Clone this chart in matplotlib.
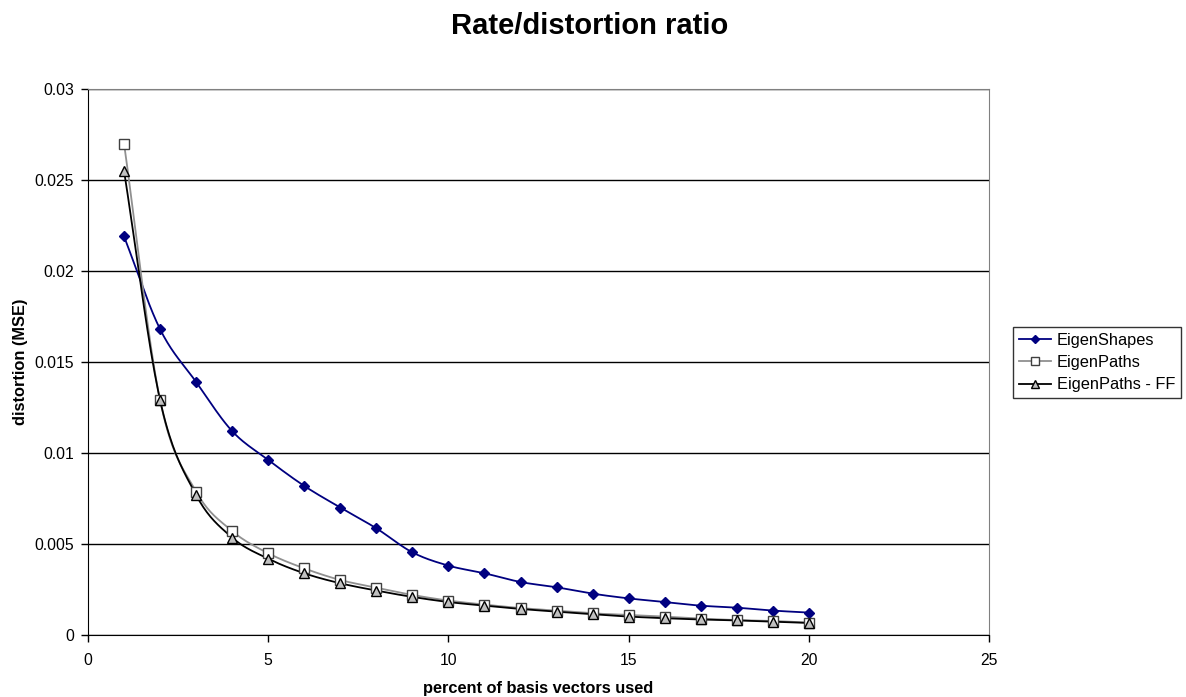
import numpy as np
import matplotlib
matplotlib.use('Agg')
import matplotlib.pyplot as plt

plt.rcParams['font.family'] = ['Liberation Sans', 'DejaVu Sans']

# data
pct = np.arange(1, 21)
eigen_shapes = [0.0219, 0.0168, 0.0139, 0.0112, 0.00962, 0.00819, 0.00700, 0.00586,
                0.00454, 0.00381, 0.00339, 0.00291, 0.00262, 0.00227, 0.00201, 0.00181,
                0.00161, 0.00150, 0.00134, 0.00123]
eigen_paths = [0.0270, 0.0129, 0.00788, 0.00571, 0.00449, 0.00366, 0.00302, 0.00260,
               0.00220, 0.00189, 0.00167, 0.00148, 0.00134, 0.00119, 0.00110, 0.00101,
               0.00090, 0.00082, 0.00077, 0.00068]
eigen_paths_ff = [0.0255, 0.0129, 0.00769, 0.00535, 0.00419, 0.00339, 0.00284, 0.00244,
                  0.00209, 0.00181, 0.00161, 0.00143, 0.00128, 0.00114, 0.00101, 0.00092,
                  0.00085, 0.00080, 0.00073, 0.00066]


def smooth(x, y, n=20):
    # Catmull-Rom style curve through the points, like Excel's smoothed lines
    x = np.asarray(x, float)
    y = np.asarray(y, float)
    px = np.concatenate([[2 * x[0] - x[1]], x, [2 * x[-1] - x[-2]]])
    py = np.concatenate([[2 * y[0] - y[1]], y, [2 * y[-1] - y[-2]]])
    xs, ys = [], []
    t = np.linspace(0, 1, n, endpoint=False)
    for i in range(1, len(px) - 2):
        for p, out in ((px, xs), (py, ys)):
            p0, p1, p2, p3 = p[i - 1], p[i], p[i + 1], p[i + 2]
            c1 = p1 + (p2 - p0) / 6
            c2 = p2 - (p3 - p1) / 6
            out.extend((1 - t) ** 3 * p1 + 3 * (1 - t) ** 2 * t * c1
                       + 3 * (1 - t) * t ** 2 * c2 + t ** 3 * p2)
    xs.append(x[-1])
    ys.append(y[-1])
    return xs, ys


fig = plt.figure(figsize=(11.86, 6.97), dpi=100)
ax = fig.add_axes([0.0742, 0.089, 0.7598, 0.7833])

series = [
    (eigen_shapes, 'EigenShapes', '#000080', 'D', '#000080', '#000080', 5.5),
    (eigen_paths, 'EigenPaths', '#909090', 's', 'white', '#404040', 6.5),
    (eigen_paths_ff, 'EigenPaths - FF', 'black', '^', '#c0c0c0', 'black', 6.5),
]
for vals, name, col, mk, fc, ec, ms in series:
    sx, sy = smooth(pct, vals)
    ax.plot(sx, sy, color=col, lw=1.3, zorder=3)
    ax.plot(pct, vals, ls='none', marker=mk, mfc=fc, mec=ec, ms=ms, mew=1.0, zorder=4)

ax.set_xlim(0, 25)
ax.set_ylim(0, 0.03)
ax.set_xticks([0, 5, 10, 15, 20, 25])
ax.set_yticks([0, 0.005, 0.01, 0.015, 0.02, 0.025, 0.03])
ax.set_yticklabels(['0', '0.005', '0.01', '0.015', '0.02', '0.025', '0.03'])
ax.yaxis.grid(True, color='black', lw=1.0)
ax.set_axisbelow(True)
ax.tick_params(labelsize=11.3, length=5, direction='out', width=1)
ax.tick_params(axis='x', pad=8)
ax.tick_params(axis='y', pad=5)
ax.spines['top'].set_color('#808080')
ax.spines['right'].set_color('#808080')

ax.set_xlabel('percent of basis vectors used', fontsize=11.8, fontweight='bold', labelpad=9)
ax.set_ylabel('distortion (MSE)', fontsize=11.8, fontweight='bold', labelpad=5)
fig.text(0.4975, 0.951, 'Rate/distortion ratio', ha='center', va='baseline',
         fontsize=21, fontweight='bold')

handles = []
for vals, name, col, mk, fc, ec, ms in series:
    handles.append(plt.Line2D([0], [0], color=col, lw=1.3, marker=mk, mfc=fc, mec=ec,
                              ms=ms - 1.0, label=name))
fig.legend(handles=handles, loc='center left', bbox_to_anchor=(0.854, 0.480),
           fontsize=11.8, frameon=True, fancybox=False, edgecolor='black',
           handlelength=2.0, handletextpad=0.35, borderpad=0.35, labelspacing=0.45,
           borderaxespad=0)

fig.savefig('out.png', dpi=100)
